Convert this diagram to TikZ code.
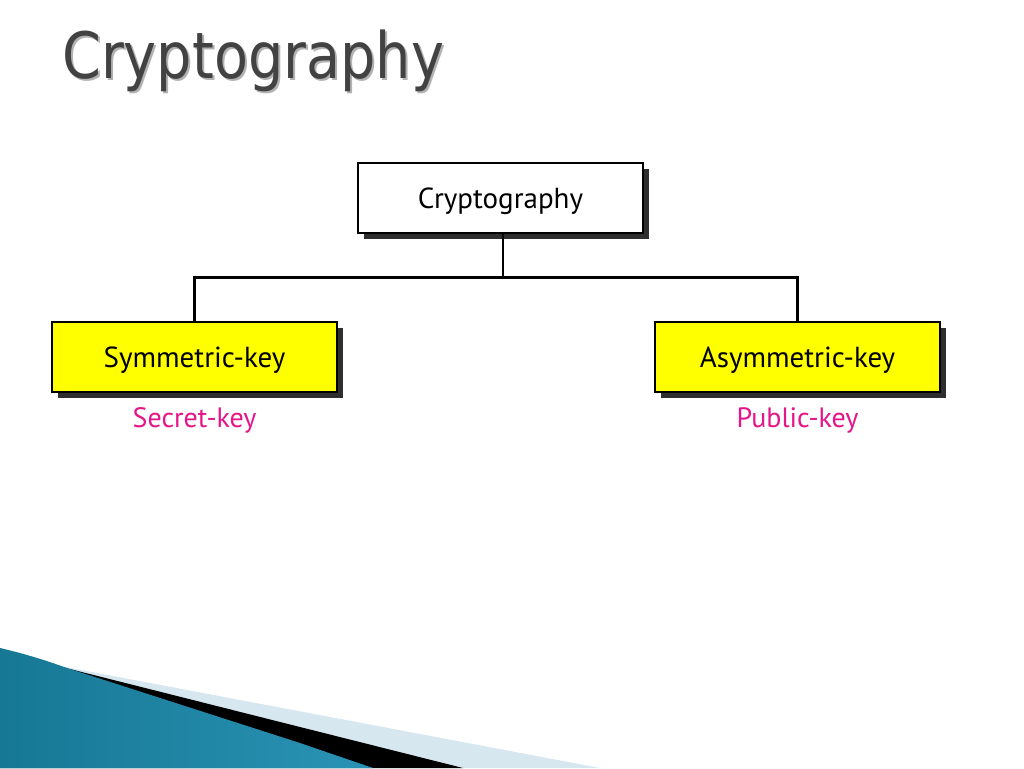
\documentclass[tikz,border=0pt]{standalone}
\usepackage{fontspec}
\setmainfont{PT Sans}
\newfontfamily\titlefont{DejaVu Sans}
\usetikzlibrary{shadows}
\definecolor{titlegray}{HTML}{424242}
\definecolor{keypink}{RGB}{228,22,138}
\definecolor{boxyellow}{RGB}{255,255,0}
\definecolor{bandlight}{HTML}{D6E7F0}
\definecolor{bluedark}{HTML}{167894}
\definecolor{bluelight}{HTML}{66C6E4}
\definecolor{bluemid}{HTML}{2A93B5}
\tikzset{
  catbox/.style={draw=black, line width=2pt, minimum width=285pt, minimum height=70pt,
    inner sep=0pt, text height=25pt, text depth=4pt, font=\fontsize{29}{33}\selectfont,
    drop shadow={shadow xshift=6pt, shadow yshift=-6pt, fill=black!82, opacity=1}},
  link/.style={draw=black, line width=2.3pt},
  keylabel/.style={text=keypink, font=\fontsize{28}{32}\selectfont, inner sep=0pt}
}
\begin{document}
\begin{tikzpicture}[x=1pt,y=-1pt]
\useasboundingbox (0,0) rectangle (1024,768);
\fill[white] (0,0) rectangle (1024,768);
% title
\node[text=black!30, anchor=west, inner sep=0pt, font=\titlefont\fontsize{64}{70}\selectfont] (titleshadow) at (64,63) {\scalebox{0.87}[1]{Cryptography}};
\node[text=titlegray, anchor=west, inner sep=0pt, font=\titlefont\fontsize{64}{70}\selectfont] (title) at (62,61) {\scalebox{0.87}[1]{Cryptography}};
% boxes
\node[catbox, fill=white] (top) at (500.5,198) {Cryptography};
\node[catbox, fill=boxyellow] (left) at (194.5,357) {Symmetric-key};
\node[catbox, fill=boxyellow] (right) at (797.5,357) {Asymmetric-key};
\coordinate (j) at (503,277.5);
\draw[link] (top.south -| j) -- (j);
\draw[link] (j) -| (left.north);
\draw[link] (j) -| (right.north);
\node[keylabel] (secret) at (194.5,420) {Secret-key};
\node[keylabel] (public) at (797.5,420) {Public-key};
% bottom decoration
\fill[bandlight] (60,666) -- (600,768) -- (0,768) -- cycle;
\fill[black] (50,664) -- (300,727) -- (463,768) -- (0,768) -- cycle;
\shade[left color=bluedark, middle color=bluelight, right color=bluemid] (0,648) .. controls (30,655) and (50,662) .. (67,668) -- (300,743) -- (373,768) -- (0,768) -- cycle;
\end{tikzpicture}
\end{document}
